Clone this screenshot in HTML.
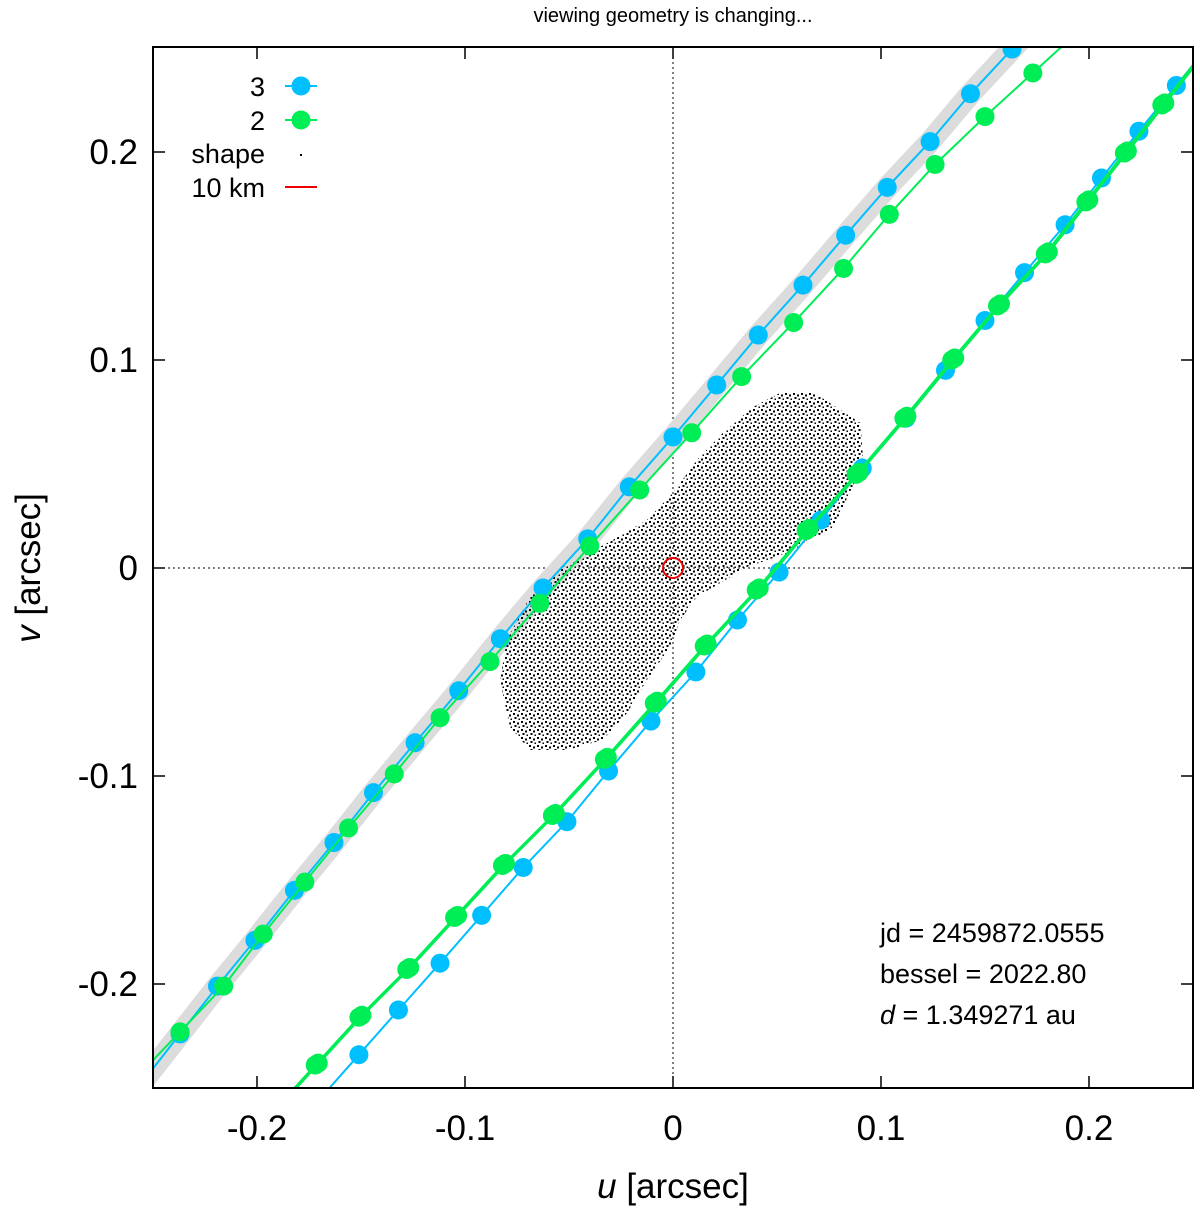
<!DOCTYPE html>
<html><head><meta charset="utf-8"><style>
html,body{margin:0;padding:0;background:#fff;overflow:hidden;}
svg{display:block;}
svg text{font-family:"Liberation Sans",sans-serif;}
</style></head><body>
<svg id="chart" width="1200" height="1217" viewBox="0 0 1200 1217" xmlns="http://www.w3.org/2000/svg">
<defs>
<clipPath id="plotclip"><rect x="153" y="47" width="1040" height="1041"/></clipPath>
<pattern id="dots" width="8" height="8" patternUnits="userSpaceOnUse">
<rect x="1" y="1" width="2" height="2" fill="#000"/><rect x="5" y="2.5" width="2" height="2" fill="#000"/><rect x="2.5" y="5" width="2" height="2" fill="#000"/><rect x="6.5" y="6.5" width="1.5" height="1.5" fill="#000"/>
</pattern>
</defs>
<text x="673" y="22" font-size="20" text-anchor="middle">viewing geometry is changing...</text>
<g id="axes"></g>
<g id="plot" clip-path="url(#plotclip)"></g>
<rect x="153" y="47" width="1040" height="1041" fill="none" stroke="#000" stroke-width="2"/>
<text x="673" y="1198" font-size="35" text-anchor="middle"><tspan font-style="italic">u</tspan> [arcsec]</text>
<text transform="translate(40,568) rotate(-90)" font-size="35" text-anchor="middle"><tspan font-style="italic">v</tspan> [arcsec]</text>
<g font-size="27">
<text x="265" y="96" text-anchor="end">3</text>
<line x1="285" y1="86" x2="317" y2="86" stroke="#00bfff" stroke-width="2"/><circle cx="301" cy="86" r="9.5" fill="#00bfff"/>
<text x="265" y="130" text-anchor="end">2</text>
<line x1="285" y1="120" x2="317" y2="120" stroke="#00ee55" stroke-width="2"/><circle cx="301" cy="120" r="9.5" fill="#00ee55"/>
<text x="265" y="163" text-anchor="end">shape</text>
<rect x="300" y="154" width="2" height="2" fill="#000"/>
<text x="265" y="197" text-anchor="end">10 km</text>
<line x1="285" y1="187" x2="317" y2="187" stroke="#e00" stroke-width="2"/>
</g>
<g font-size="27">
<text x="880" y="942">jd = 2459872.0555</text>
<text x="880" y="983">bessel = 2022.80</text>
<text x="880" y="1024"><tspan font-style="italic">d</tspan> = 1.349271 au</text>
</g>
</svg>
<script>
const xTicks=[-0.2,-0.1,0,0.1,0.2];
const yTicks=[-0.2,-0.1,0,0.1,0.2];
const xTickLabels=["-0.2","-0.1","0","0.1","0.2"];
const yTickLabels=["-0.2","-0.1","0","0.1","0.2"];
const upperBlueU=[0.163,0.143,0.1236,0.103,0.083,0.0625,0.041,0.021,0,-0.021,-0.041,-0.0625,-0.083,-0.103,-0.124,-0.144,-0.163,-0.182,-0.201,-0.219,-0.237];
const upperBlueV=[0.2495,0.228,0.205,0.183,0.160,0.136,0.112,0.088,0.063,0.039,0.014,-0.0096,-0.034,-0.059,-0.084,-0.108,-0.132,-0.155,-0.179,-0.201,-0.224];
const upperGreenU=[0.173,0.150,0.126,0.104,0.082,0.058,0.033,0.009,-0.016,-0.040,-0.064,-0.088,-0.112,-0.134,-0.156,-0.177,-0.197,-0.216,-0.237];
const upperGreenV=[0.238,0.217,0.194,0.170,0.144,0.118,0.092,0.065,0.0375,0.0106,-0.017,-0.045,-0.072,-0.099,-0.125,-0.151,-0.176,-0.201,-0.223];
const lowerBlueU=[0.242,0.224,0.206,0.1885,0.169,0.150,0.131,0.112,0.091,0.071,0.051,0.031,0.011,-0.0106,-0.031,-0.051,-0.072,-0.092,-0.112,-0.132,-0.151];
const lowerBlueV=[0.232,0.210,0.1875,0.165,0.142,0.119,0.095,0.072,0.048,0.023,-0.002,-0.025,-0.050,-0.0736,-0.0976,-0.122,-0.144,-0.167,-0.190,-0.2125,-0.234];
const lowerGreenU=[0.235,0.217,0.1985,0.179,0.156,0.134,0.111,0.088,0.064,0.040,0.015,-0.009,-0.033,-0.058,-0.082,-0.105,-0.128,-0.151,-0.172];
const lowerGreenV=[0.2226,0.1995,0.176,0.151,0.126,0.100,0.072,0.045,0.018,-0.0106,-0.0375,-0.065,-0.092,-0.119,-0.143,-0.168,-0.193,-0.216,-0.239];
const shapeU=[0.0673,0.0901,0.0916,0.0772,0.0551,0.0356,0.0115,0.0034,-0.0014,-0.0125,-0.0221,-0.0337,-0.0510,-0.0688,-0.0784,-0.0832,-0.0798,-0.0688,-0.0529,-0.0288,-0.0125,0,0.0115,0.024,0.0385,0.0514];
const shapeV=[0.0846,0.0697,0.0505,0.0197,0.0072,0.0005,-0.0139,-0.0250,-0.0380,-0.0538,-0.0697,-0.0827,-0.0875,-0.0875,-0.0764,-0.0538,-0.0346,-0.0139,0.0005,0.0135,0.0231,0.0361,0.0519,0.0649,0.0774,0.0841];

const NS="http://www.w3.org/2000/svg";
const X=u=>673+u*2080, Y=v=>568-v*2080;
function mk(tag,attrs,parent){const e=document.createElementNS(NS,tag);for(const k in attrs)e.setAttribute(k,attrs[k]);parent.appendChild(e);return e;}
const axes=document.getElementById('axes'), plot=document.getElementById('plot');
xTicks.forEach((t,i)=>{
  const x=X(t);
  const a=mk('line',{x1:x,y1:1088,x2:x,y2:1076,stroke:'#000','stroke-width':1.5},axes);
  
  
  const b=mk('line',{x1:x,y1:47,x2:x,y2:59,stroke:'#000','stroke-width':1.5},axes);
  
  
  const tx=mk('text',{x:x,y:1140,'font-size':35,'text-anchor':'middle'},axes);
  tx.textContent=xTickLabels[i];
  
  
});
yTicks.forEach((t,i)=>{
  const y=Y(t);
  const a=mk('line',{x1:153,y1:y,x2:165,y2:y,stroke:'#000','stroke-width':1.5},axes);
  
  
  const b=mk('line',{x1:1193,y1:y,x2:1181,y2:y,stroke:'#000','stroke-width':1.5},axes);
  
  
  const tx=mk('text',{x:138,y:y+12,'font-size':35,'text-anchor':'end'},axes);
  tx.textContent=yTickLabels[i];
  
  
});
const z1=mk('line',{x1:X(0),y1:47,x2:X(0),y2:1088,stroke:'#000','stroke-width':1,'stroke-dasharray':'2,3'},plot);


const z2=mk('line',{x1:153,y1:Y(0),x2:1193,y2:Y(0),stroke:'#000','stroke-width':1,'stroke-dasharray':'2,3'},plot);


function extPts(us,vs,dx,dy){
  const n=us.length;const pts=[];
  const s0=(vs[1]-vs[0])/(us[1]-us[0]), s1=(vs[n-1]-vs[n-2])/(us[n-1]-us[n-2]);
  pts.push([X(us[0]+0.2)+dx,Y(vs[0]+0.2*s0)+dy]);
  for(let i=0;i<n;i++)pts.push([X(us[i])+dx,Y(vs[i])+dy]);
  pts.push([X(us[n-1]-0.2)+dx,Y(vs[n-1]-0.2*s1)+dy]);
  return pts.map(p=>p.join(',')).join(' ');
}
const band=mk('polyline',{points:extPts(upperBlueU,upperBlueV,0,0),fill:'none',stroke:'#dcdcdc','stroke-width':22},plot);


const sh=mk('polygon',{points:shapeU.map((u,i)=>X(u)+','+Y(shapeV[i])).join(' '),fill:'url(#dots)'},plot);


function series(us,vs,color,name,dbl){
  const l=mk('polyline',{points:extPts(us,vs,0,0),fill:'none',stroke:color,'stroke-width':2},plot);
  
  
  if(dbl){
    const l2=mk('polyline',{points:extPts(us,vs,4,-2),fill:'none',stroke:color,'stroke-width':2},plot);
    
    
  }
  us.forEach((u,i)=>{
    const c=mk('circle',{cx:X(u),cy:Y(vs[i]),r:9.5,fill:color},plot);
    
    
    if(dbl){
      const c2=mk('circle',{cx:X(u)+3,cy:Y(vs[i])-2,r:9.5,fill:color},plot);
      
      
    }
  });
}
series(upperBlueU,upperBlueV,'#00bfff','upper-chord-3',false);
series(lowerBlueU,lowerBlueV,'#00bfff','lower-chord-3',false);
series(upperGreenU,upperGreenV,'#00ee55','upper-chord-2',false);
series(lowerGreenU,lowerGreenV,'#00ee55','lower-chord-2',true);
const rc=mk('circle',{cx:X(0),cy:Y(0),r:10,fill:'none',stroke:'#e00','stroke-width':2},plot);


</script>
</body></html>
